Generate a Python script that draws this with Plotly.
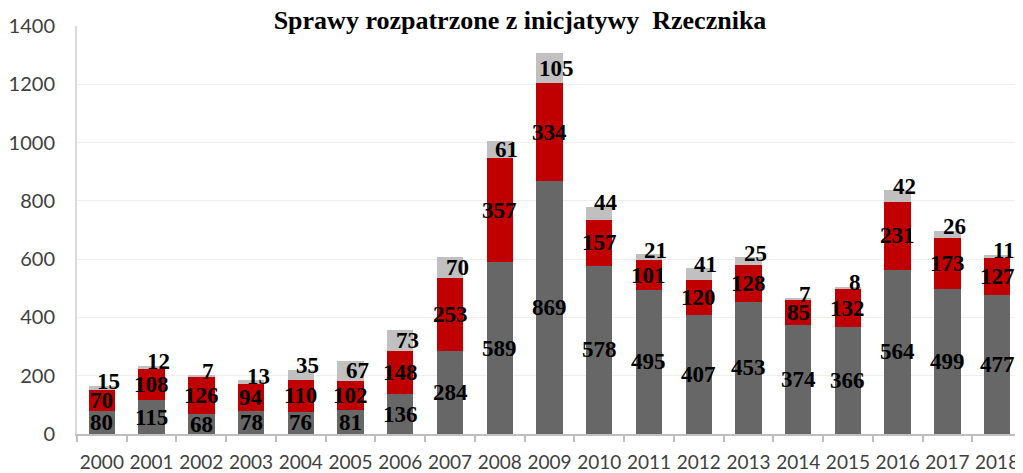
import plotly.graph_objects as go

years = [str(y) for y in range(2000, 2019)]
bottom_vals = [80, 115, 68, 78, 76, 81, 136, 284, 589, 869, 578, 495, 407, 453, 374, 366, 564, 499, 477]
middle_vals = [70, 108, 126, 94, 110, 102, 148, 253, 357, 334, 157, 101, 120, 128, 85, 132, 231, 173, 127]
top_vals = [15, 12, 7, 13, 35, 67, 73, 70, 61, 105, 44, 21, 41, 25, 7, 8, 42, 26, 11]

title_text = "Sprawy rozpatrzone z inicjatywy  Rzecznika"
y_ticks = [0, 200, 400, 600, 800, 1000, 1200, 1400]

C_DARK = "#676767"
C_RED = "#C00000"
C_LIGHT = "#C0C0C0"

# page body has an 8px margin, so the figure is sized to fill the rest of the window
W, H = 1015, 465

fig = go.Figure()
for vals, col in [(bottom_vals, C_DARK), (middle_vals, C_RED), (top_vals, C_LIGHT)]:
    fig.add_trace(go.Bar(x=years, y=vals, marker=dict(color=col, line=dict(width=0)),
                         hoverinfo="x+y"))

lab_font = dict(family="Liberation Serif", size=23, color="#000000")
ann = []
for i, yr in enumerate(years):
    b, m, t = bottom_vals[i], middle_vals[i], top_vals[i]
    ann.append(dict(x=i, y=b / 2, text=f"<b>{b}</b>", showarrow=False,
                    font=lab_font, yanchor="middle", xanchor="center"))
    ann.append(dict(x=i, y=b + m / 2, text=f"<b>{m}</b>", showarrow=False,
                    font=lab_font, yanchor="middle", xanchor="center"))
    top = b + m + t
    if t >= 55:
        ann.append(dict(x=i, y=top - t / 2, text=f"<b>{t}</b>", showarrow=False,
                        font=lab_font, yanchor="middle", xanchor="center", xshift=7))
    else:
        ann.append(dict(x=i, y=top, text=f"<b>{t}</b>", showarrow=False,
                        font=lab_font, yanchor="middle", xanchor="center", xshift=7, yshift=4))

fig.update_layout(
    barmode="stack",
    bargap=0.47,
    width=W, height=H,
    margin=dict(l=69, r=1, t=18, b=39, autoexpand=False),
    paper_bgcolor="white", plot_bgcolor="white",
    showlegend=False,
    title=dict(text=f"<b>{title_text}</b>", x=512 / W, xanchor="center",
               y=1 - 12 / H, yanchor="middle", yref="container",
               font=dict(family="Liberation Serif", size=26, color="#000000")),
    annotations=ann,
    font=dict(family="Lato", size=19, color="#404040"),
)
fig.update_yaxes(range=[0, 1400], tickvals=y_ticks, showgrid=True, gridcolor="#EEEEEE",
                 gridwidth=1, showline=True, linecolor="#D9D9D9", linewidth=2,
                 ticks="outside", ticklen=16, tickcolor="rgba(0,0,0,0)",
                 zeroline=False, automargin=False,
                 tickfont=dict(family="Lato", size=20, color="#404040"))
fig.update_xaxes(type="category", range=[-0.5, 18.5], showline=True, linecolor="#BFBFBF",
                 linewidth=2, ticks="outside", tickson="boundaries", ticklen=6,
                 tickcolor="#BFBFBF", tickwidth=2, ticklabelstandoff=10,
                 tickangle=0, automargin=False,
                 tickfont=dict(family="Lato", size=19, color="#404040"))

fig.write_html("out.html")
